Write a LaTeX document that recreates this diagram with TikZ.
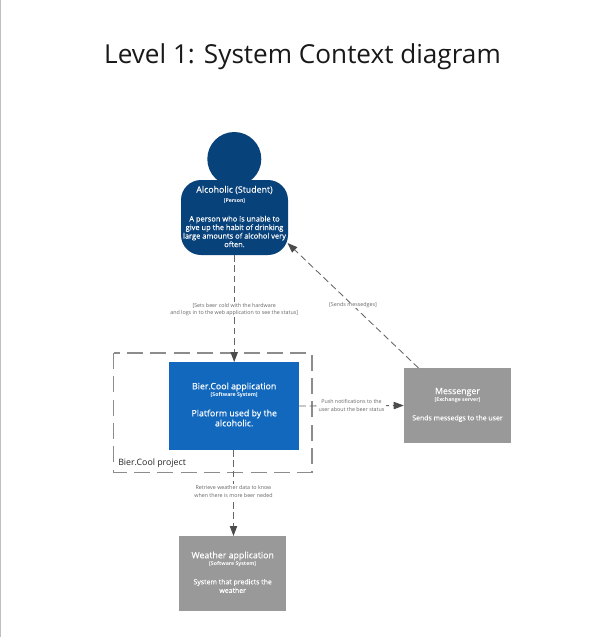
\documentclass[tikz,border=0pt]{standalone}
\usepackage{fontspec}
\setmainfont{Open Sans}
\newfontfamily\semib[FakeBold=0.25]{Open Sans}
\usetikzlibrary{arrows.meta}
\definecolor{persblue}{HTML}{08427B}
\definecolor{sysblue}{HTML}{1168BD}
\definecolor{extgray}{HTML}{999999}
\definecolor{linegray}{HTML}{666666}
\newcommand{\fsz}[2]{\fontsize{#1}{#2}\selectfont}
\tikzset{
  x=0.75pt,y=-0.75pt,
  rel/.style={draw=linegray,line width=0.65pt,dash pattern=on 5pt off 2.8pt,-{Triangle[length=7.5pt,width=5.5pt,color=black!70]}},
  rellabel/.style={fill=white,text=black!60,align=center,inner sep=1pt,font=\fsz{4}{6}},
  title/.style={font=\fsz{19.6}{24},text=black!90,inner sep=0pt},
  boundary/.style={draw=black!45,line width=0.8pt,dash pattern=on 12pt off 5.5pt},
  wtxt/.style={text=white,align=center,inner sep=0pt},
  nametext/.style={wtxt,font=\semib\fsz{6.6}{8}},
  typetext/.style={wtxt,font=\fsz{3.9}{5}\bfseries},
}
\begin{document}
\begin{tikzpicture}
\useasboundingbox (0,0) rectangle (595,637);
\fill[white] (0,0) rectangle (595,637);
\fill[black!25] (0,0) rectangle (1,637);
\node[title] (ttl) at (302.5,57) {Level 1: System Context diagram};
% boundary
\draw[boundary] (113.5,353) rectangle (312,472.5);
\node[font=\fsz{6.6}{8},text=black!85,inner sep=0pt,anchor=west] (bl) at (118,463) {Bier.Cool project};
% person
\fill[persblue] (234.3,159) circle (27*0.75pt);
\node[fill=persblue,rounded corners=15pt,minimum width=107*0.75pt,minimum height=75*0.75pt,inner sep=0pt] (person) at (234.5,217.5) {};
\node[nametext] (pname) at (234.5,190) {Alcoholic (Student)};
\node[typetext] (ptype) at (234.5,201) {[Person]};
\node[wtxt,font=\semib\fsz{5.6}{6.4}] (pdesc) at (234.5,231.5) {A person who is unable to\\give up the habit of drinking\\large amounts of alcohol very\\often.};
% bier
\node[fill=sysblue,minimum width=129.5*0.75pt,minimum height=88*0.75pt,inner sep=0pt] (bier) at (234.2,406) {};
\node[nametext] (bname) at (234.2,387) {Bier.Cool application};
\node[typetext] (btype) at (234.2,395) {[Software System]};
\node[wtxt,font=\semib\fsz{6.6}{7.5}] (bdesc) at (234.2,418) {Platform used by the\\alcoholic.};
% messenger
\node[fill=extgray,minimum width=107*0.75pt,minimum height=75*0.75pt,inner sep=0pt] (msg) at (457.5,405.5) {};
\node[nametext] (mname) at (457.5,392) {Messenger};
\node[typetext] (mtype) at (457.5,400) {[Exchange server]};
\node[wtxt,font=\semib\fsz{5.2}{6.5}] (mdesc) at (457.5,418.5) {Sends messedgs to the user};
% weather
\node[fill=extgray,minimum width=107*0.75pt,minimum height=75*0.75pt,inner sep=0pt] (wea) at (232.7,573.5) {};
\node[nametext] (wname) at (232.7,556) {Weather application};
\node[typetext] (wtype) at (232.7,564.5) {[Software System]};
\node[wtxt,font=\semib\fsz{5.2}{6.5}] (wdesc) at (232.7,586) {System that predicts the\\weather};
% connectors
\coordinate (msgout) at (418.5,368);
\coordinate (perin) at (287.5,243);
\coordinate (biertop) at (234.2,362);
\coordinate (perbot) at (234.2,255);
\coordinate (bierbot) at (233.5,450);
\coordinate (weatop) at (233.5,536);
\draw[rel] (perbot) -- node[rellabel,pos=0.51,font=\fsz{4}{5.4}] (l1) {[Sets beer cold with the hardware\\and logs in to the web application to see the status]} (biertop);
\draw[rel] (bier.east) -- node[rellabel,pos=0.5] (l2) {Push notifications to the\\user about the beer status} (msg.west);
\draw[rel] (bierbot) -- node[rellabel,pos=0.485] (l3) {Retrieve weather data to know\\when there is more beer neded} (weatop);
\draw[rel] (msgout) -- node[rellabel,pos=0.5,inner sep=0pt] (l4) {[Sends messedges]} (perin);
\end{tikzpicture}
\end{document}
